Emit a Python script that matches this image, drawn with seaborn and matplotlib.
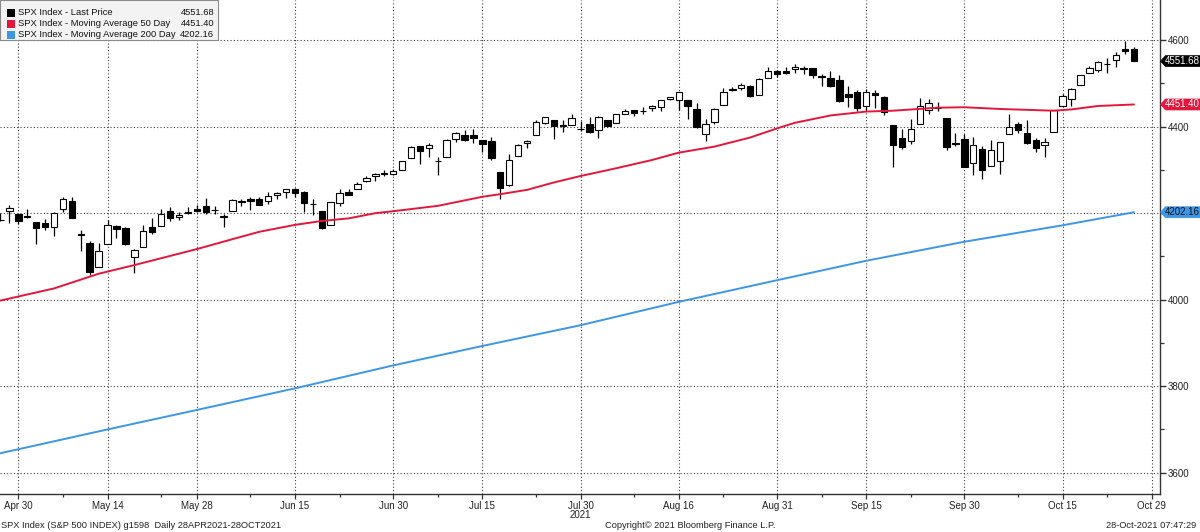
import numpy as np
import pandas as pd
import matplotlib
matplotlib.use("Agg")
import matplotlib.pyplot as plt
from matplotlib.patches import Rectangle, Polygon
from matplotlib.transforms import IdentityTransform
import seaborn as sns

# ---------------- data ----------------
holidays = ["2021-05-31", "2021-07-05", "2021-09-06"]
trading_days = pd.bdate_range("2021-04-28", "2021-10-29", freq="C", holidays=holidays)

opens = [4185.14, 4206.14, 4198.10, 4191.98, 4179.04, 4177.06, 4169.14, 4210.34, 4228.29, 4150.34,
         4130.55, 4074.99, 4129.58, 4169.92, 4165.94, 4098.45, 4121.97, 4168.61, 4170.16, 4205.94,
         4191.59, 4201.94, 4210.77, 4216.52, 4206.82, 4191.43, 4206.05, 4229.34, 4233.81, 4232.99,
         4228.56, 4242.90, 4248.31, 4255.28, 4248.87, 4220.37, 4204.78, 4173.40, 4224.61, 4249.27,
         4256.97, 4274.45, 4284.90, 4293.21, 4290.65, 4300.73, 4326.60, 4356.46, 4351.01, 4321.07,
         4329.38, 4372.41, 4381.07, 4380.11, 4369.02, 4367.43, 4296.40, 4265.11, 4331.13, 4361.27,
         4381.20, 4409.58, 4416.38, 4402.95, 4403.59, 4395.12, 4406.86, 4392.74, 4415.95, 4408.86,
         4429.07, 4437.77, 4435.79, 4442.18, 4446.08, 4464.84, 4461.65, 4462.12, 4440.94, 4382.44,
         4410.56, 4450.29, 4484.40, 4490.45, 4493.75, 4474.10, 4513.76, 4529.75, 4528.80, 4534.48,
         4532.42, 4535.38, 4518.09, 4513.02, 4506.92, 4474.81, 4479.33, 4447.49, 4477.09, 4469.74,
         4402.95, 4374.45, 4367.43, 4406.75, 4438.04, 4442.12, 4419.54, 4362.41, 4370.67, 4317.16,
         4348.84, 4309.87, 4319.57, 4383.73, 4406.51, 4385.44, 4368.31, 4358.01, 4386.75, 4447.69,
         4463.72, 4497.34, 4524.42, 4532.24, 4546.12, 4553.69, 4578.69, 4580.22]
highs = [4201.53, 4218.78, 4198.10, 4209.39, 4179.04, 4187.72, 4202.70, 4238.04, 4236.39, 4162.04,
         4134.73, 4131.58, 4183.13, 4171.92, 4169.15, 4116.93, 4172.80, 4188.72, 4209.52, 4213.42,
         4202.61, 4213.38, 4218.36, 4234.12, 4217.37, 4197.82, 4233.45, 4232.34, 4236.74, 4237.09,
         4249.74, 4248.38, 4255.59, 4257.16, 4251.89, 4232.29, 4204.78, 4226.24, 4255.84, 4256.60,
         4271.28, 4286.12, 4292.14, 4300.52, 4302.43, 4320.66, 4355.43, 4356.46, 4361.88, 4330.88,
         4372.51, 4386.68, 4392.37, 4393.68, 4369.02, 4375.09, 4296.40, 4336.84, 4359.70, 4369.87,
         4415.18, 4422.73, 4416.38, 4415.47, 4429.97, 4412.25, 4422.18, 4423.79, 4416.17, 4429.76,
         4440.82, 4439.39, 4445.21, 4449.44, 4461.77, 4468.37, 4480.26, 4462.12, 4454.32, 4418.61,
         4444.35, 4489.88, 4492.81, 4501.71, 4495.90, 4513.33, 4537.36, 4531.39, 4537.11, 4545.85,
         4541.45, 4535.38, 4521.79, 4529.90, 4520.47, 4492.99, 4485.68, 4486.87, 4485.87, 4471.52,
         4402.95, 4394.87, 4416.75, 4465.40, 4463.12, 4457.30, 4419.54, 4385.57, 4382.55, 4375.19,
         4355.51, 4369.23, 4365.57, 4429.97, 4412.02, 4415.88, 4374.89, 4372.87, 4439.73, 4475.82,
         4488.75, 4520.40, 4540.87, 4551.44, 4559.67, 4572.62, 4598.53, 4584.57]
lows = [4181.78, 4176.81, 4174.85, 4188.03, 4128.59, 4160.94, 4147.33, 4201.64, 4188.13, 4111.53,
        4056.88, 4074.99, 4129.58, 4142.69, 4125.99, 4061.41, 4121.97, 4151.72, 4170.16, 4182.52,
        4184.11, 4197.78, 4203.57, 4197.59, 4198.27, 4167.76, 4206.05, 4215.66, 4208.41, 4218.74,
        4220.34, 4232.25, 4234.07, 4238.35, 4202.45, 4196.05, 4164.40, 4173.40, 4217.27, 4241.43,
        4256.97, 4271.16, 4274.67, 4287.04, 4287.96, 4300.73, 4326.60, 4314.37, 4329.79, 4289.37,
        4329.38, 4364.03, 4366.92, 4362.36, 4340.70, 4322.53, 4233.13, 4262.05, 4331.13, 4350.06,
        4381.20, 4405.45, 4372.51, 4387.01, 4403.59, 4389.65, 4384.81, 4373.00, 4400.23, 4408.86,
        4429.07, 4424.74, 4430.03, 4436.42, 4435.96, 4460.82, 4437.66, 4417.83, 4397.59, 4367.73,
        4406.80, 4450.29, 4482.28, 4485.66, 4468.99, 4474.10, 4513.76, 4515.80, 4522.02, 4524.66,
        4521.65, 4513.00, 4493.95, 4492.07, 4457.66, 4445.70, 4435.46, 4438.37, 4443.80, 4427.76,
        4305.91, 4347.96, 4360.19, 4406.75, 4430.27, 4436.19, 4346.33, 4355.08, 4306.24, 4288.52,
        4278.94, 4309.87, 4290.49, 4383.73, 4386.22, 4360.59, 4342.09, 4329.92, 4386.75, 4447.69,
        4447.47, 4496.41, 4524.40, 4526.89, 4524.00, 4537.36, 4569.17, 4551.66]
closes = [4183.18, 4211.47, 4181.17, 4192.66, 4164.66, 4167.59, 4201.62, 4232.60, 4188.43, 4152.10,
          4063.04, 4112.50, 4173.85, 4163.29, 4127.83, 4115.68, 4159.12, 4155.86, 4197.05, 4188.13,
          4195.99, 4200.88, 4204.11, 4202.04, 4208.12, 4192.85, 4229.89, 4226.52, 4227.26, 4219.55,
          4239.18, 4247.44, 4255.15, 4246.59, 4223.70, 4221.86, 4166.45, 4224.79, 4246.44, 4241.84,
          4266.49, 4280.70, 4290.61, 4291.80, 4297.50, 4319.94, 4352.34, 4343.54, 4358.13, 4320.82,
          4369.55, 4384.63, 4369.21, 4374.30, 4360.03, 4327.16, 4258.49, 4323.06, 4358.69, 4367.48,
          4411.79, 4422.30, 4401.46, 4400.64, 4419.15, 4395.26, 4387.16, 4423.15, 4402.66, 4429.10,
          4436.52, 4432.35, 4436.75, 4447.70, 4460.83, 4468.00, 4479.71, 4448.08, 4400.27, 4405.80,
          4441.67, 4479.53, 4486.23, 4496.19, 4470.00, 4509.37, 4528.79, 4522.68, 4524.09, 4536.95,
          4535.43, 4520.03, 4514.07, 4493.28, 4458.58, 4468.73, 4443.05, 4480.70, 4473.75, 4432.99,
          4357.73, 4354.19, 4395.64, 4448.98, 4455.48, 4443.11, 4352.63, 4359.46, 4307.54, 4357.04,
          4300.46, 4345.72, 4363.55, 4399.76, 4391.34, 4361.19, 4350.65, 4363.80, 4438.26, 4471.37,
          4486.46, 4519.63, 4536.19, 4549.78, 4544.90, 4566.48, 4574.79, 4551.68]

# moving averages (trading-day position, value)
ma50_pos = [0, 6, 11, 15, 22, 26, 29, 33, 36, 39, 42, 45, 49, 54, 56, 59, 62, 65, 69, 73,
            76, 80, 84, 87, 89, 93, 97, 100, 105, 108, 112, 118, 120, 123, 127]
ma50_val = [3998, 4026, 4060, 4080, 4117, 4140, 4157, 4173, 4182, 4188, 4200, 4207, 4217, 4238,
            4244, 4254, 4271, 4286, 4304, 4323, 4340, 4354, 4375, 4396, 4409, 4426, 4435, 4437,
            4444, 4445, 4441, 4437, 4440, 4448, 4451.40]
ma200_pos = [0, 12, 22, 33, 44, 54, 65, 76, 87, 97, 108, 119, 127]
ma200_val = [3645, 3700, 3745, 3795, 3848, 3893, 3941, 3995, 4045, 4090, 4134, 4172, 4202.16]

tick_dates = ["2021-04-30", "2021-05-14", "2021-05-28", "2021-06-15", "2021-06-30", "2021-07-15",
              "2021-07-30", "2021-08-16", "2021-08-31", "2021-09-15", "2021-09-30", "2021-10-15",
              "2021-10-29"]
tick_labels = ["Apr 30", "May 14", "May 28", "Jun 15", "Jun 30", "Jul 15", "Jul 30", "Aug 16",
               "Aug 31", "Sep 15", "Sep 30", "Oct 15", "Oct 29"]
minor_dates = ["2021-05-07", "2021-05-24", "2021-06-08", "2021-06-22", "2021-07-08", "2021-07-23",
               "2021-08-09", "2021-08-23", "2021-09-08", "2021-09-22", "2021-10-08", "2021-10-22"]
y_major = [3600, 3800, 4000, 4200, 4400, 4600]
y_major_labels = ["3600", "3800", "4000", "", "4400", "4600"]   # 4200 sits under the MA200 tag
y_minor = [3700, 3900, 4100, 4300, 4500]

RED = "#e3173c"
BLUE = "#3d96e6"

# ---------------- style ----------------
sns.set_theme(style="white")
plt.rcParams['font.family'] = ['Liberation Sans', 'DejaVu Sans']

W, H = 1200, 532
fig = plt.figure(figsize=(W / 100, H / 100), dpi=100)
fig.patch.set_facecolor("white")
AX_R, AX_B = 1160.0, 494.3
ax = fig.add_axes([0, 1 - AX_B / H, AX_R / W, AX_B / H])
ax.set_facecolor("white")


def fx(p):
    return p / W


def fy(p):
    return 1 - p / H


df = pd.DataFrame({"date": trading_days[:len(closes)], "open": opens, "high": highs,
                   "low": lows, "close": closes})
df["pos"] = np.arange(len(df))
df["bottom"] = df[["open", "close"]].min(axis=1)
df["height"] = (df["close"] - df["open"]).abs().clip(lower=0.6)
up = df["close"] >= df["open"]

ax.vlines(df["pos"], df["low"], df["high"], color="black", lw=0.9, zorder=2)
ax.bar(df.loc[up, "pos"], df.loc[up, "height"], bottom=df.loc[up, "bottom"], width=0.72,
       color="white", edgecolor="black", lw=0.8, zorder=3)
ax.bar(df.loc[~up, "pos"], df.loc[~up, "height"], bottom=df.loc[~up, "bottom"], width=0.72,
       color="black", edgecolor="black", lw=0.8, zorder=3)

sns.lineplot(x=ma50_pos, y=ma50_val, ax=ax, color=RED, lw=1.4, zorder=4)
sns.lineplot(x=ma200_pos, y=ma200_val, ax=ax, color=BLUE, lw=1.4, zorder=4)

pos_of = {d.strftime("%Y-%m-%d"): i for i, d in enumerate(trading_days)}
xt = [pos_of[d] for d in tick_dates]
xm = [pos_of[d] for d in minor_dates]

ax.set_xlim(-0.05, 129.92)
ax.set_ylim(3550, 4693)
ax.set_xticks(xt)
ax.set_xticklabels(tick_labels)
ax.set_xticks(xm, minor=True)
ax.set_yticks(y_major)
ax.set_yticklabels(y_major_labels)
ax.set_yticks(y_minor, minor=True)
ax.yaxis.tick_right()
ax.set_xlabel("")
ax.set_ylabel("")

ax.grid(True, which="major", axis="both", color="#3a3a3a", lw=0.8, ls=(0, (1, 2)), zorder=1)
ax.grid(False, which="minor")
ax.set_axisbelow(True)

ax.tick_params(axis="x", which="major", bottom=True, direction="out", length=3.5, width=0.9,
               color="#333333", labelsize=7, pad=1.5, labelcolor="#222222")
ax.tick_params(axis="x", which="minor", bottom=True, direction="out", length=2.5, width=0.9,
               color="#333333")
ax.tick_params(axis="y", which="major", right=True, left=False, labelright=True, labelleft=False,
               direction="out", length=4, width=1.0, color="#333333", labelsize=7, pad=1.5,
               labelcolor="#222222")
ax.tick_params(axis="y", which="minor", right=True, left=False, direction="out", length=3,
               width=0.9, color="#333333")

for s in ["left", "top"]:
    ax.spines[s].set_visible(False)
for s in ["right", "bottom"]:
    ax.spines[s].set_color("#333333")
    ax.spines[s].set_linewidth(1.0)

ax.annotate("2021", xy=(pos_of["2021-07-30"], 0), xycoords=("data", "axes fraction"),
            xytext=(0, -15), textcoords="offset points", ha="center", va="center",
            fontsize=7, color="#222222")

# ---------------- legend ----------------
fig.add_artist(Rectangle((0, fy(40)), fx(218), 40 / H, transform=fig.transFigure,
                         fc="#f3f3f3", ec="#8a8a8a", lw=0.8, zorder=10))
rows = [(12.5, "black", "SPX Index - Last Price", closes[-1]),
        (23.8, RED, "SPX Index - Moving Average 50 Day", ma50_val[-1]),
        (34.6, BLUE, "SPX Index - Moving Average 200 Day", ma200_val[-1])]
for yy, col, lab, val in rows:
    fig.add_artist(Rectangle((fx(6.5), fy(yy + 4)), 8 / W, 8 / H, transform=fig.transFigure,
                             fc=col, ec="none", zorder=11))
    fig.text(fx(17.5), fy(yy), lab, fontsize=6.75, va="center", ha="left", color="#111111",
             zorder=12)
    fig.text(fx(214), fy(yy), f"{val:.2f}", fontsize=6.75, va="center", ha="right",
             color="#111111", zorder=12)

# ---------------- price tags ----------------
def tag(val, fc, tc):
    ypx = ax.transData.transform((0, val))[1]
    x0 = AX_R + 0.5
    h = 11
    verts = [(x0, ypx), (x0 + 5, ypx + h / 2), (W + 5, ypx + h / 2), (W + 5, ypx - h / 2),
             (x0 + 5, ypx - h / 2)]
    fig.add_artist(Polygon(verts, closed=True, transform=IdentityTransform(), fc=fc, ec=fc,
                           lw=0.5, zorder=10))
    fig.text(fx(1164.5), ypx / H, f"{val:.2f}", color=tc, fontsize=7, va="center", ha="left",
             zorder=11)


tag(closes[-1], "black", "white")
tag(ma50_val[-1], RED, "white")
tag(ma200_val[-1], BLUE, "#111111")

# ---------------- footer ----------------
fig.text(fx(1), fy(525), "SPX Index (S&P 500 INDEX) g1598  Daily 28APR2021-28OCT2021",
         fontsize=6.7, ha="left", va="center", color="#222222")
fig.text(fx(690), fy(525), "Copyright\u00a9 2021 Bloomberg Finance L.P.", fontsize=6.7,
         ha="center", va="center", color="#222222")
fig.text(fx(1196), fy(525), "28-Oct-2021 07:47:29", fontsize=6.7, ha="right", va="center",
         color="#222222")

fig.savefig("out.png", dpi=100, facecolor="white")
